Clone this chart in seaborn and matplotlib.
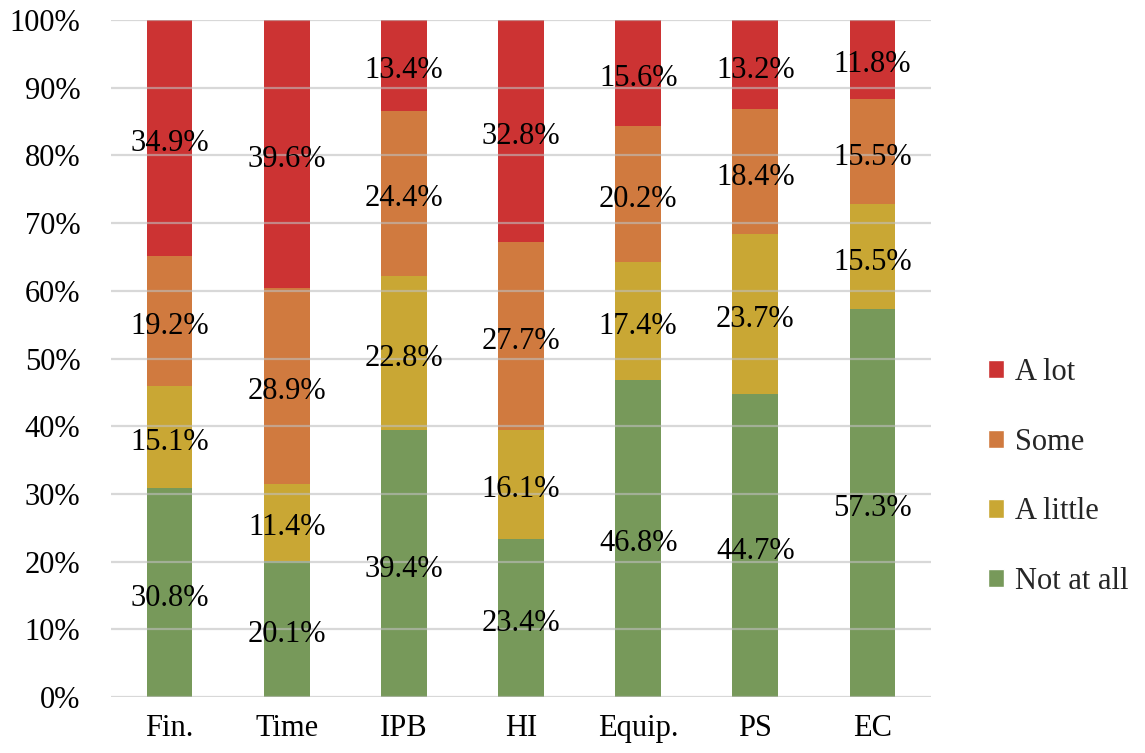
import matplotlib
matplotlib.use("Agg")
import matplotlib.pyplot as plt
import seaborn as sns
import numpy as np
from matplotlib.patches import Patch

categories = ["Fin.", "Time", "IPB", "HI", "Equip.", "PS", "EC"]
not_at_all = [30.8, 20.1, 39.4, 23.4, 46.8, 44.7, 57.3]
a_little = [15.1, 11.4, 22.8, 16.1, 17.4, 23.7, 15.5]
some = [19.2, 28.9, 24.4, 27.7, 20.2, 18.4, 15.5]
a_lot = [34.9, 39.6, 13.4, 32.8, 15.6, 13.2, 11.8]
series_names = ["Not at all", "A little", "Some", "A lot"]
colors = ["#77995A", "#C9A734", "#D07A3F", "#CC3333"]

sns.set_theme(style="white")
plt.rcParams['font.family'] = ['Liberation Serif', 'DejaVu Serif']
FS = 22

fig = plt.figure(figsize=(11.45, 7.53), dpi=100)
ax = fig.add_axes([111/1145, 56/753, 820/1145, 677/753])

series = [not_at_all, a_little, some, a_lot]
bottom = np.zeros(len(categories))
for name, vals, col in zip(series_names, series, colors):
    sns.barplot(x=categories, y=vals, bottom=bottom, color=col, width=0.39,
                ax=ax, zorder=2, linewidth=0, saturation=1)
    for i, v in enumerate(vals):
        ax.text(i, bottom[i] + v / 2 - 0.8, f"{v:.1f}%", ha="center", va="center",
                fontsize=FS, color="black", zorder=5)
    bottom = bottom + np.array(vals)

ax.set_ylim(0, 100)
ax.set_xlim(-0.5, len(categories) - 0.5)
ax.set_yticks(np.arange(0, 101, 10))
ax.set_yticklabels([f"{t}%" for t in range(0, 101, 10)])
for t in range(0, 101, 10):
    ax.axhline(t, color="#BFBFBF", alpha=0.6, linewidth=1.6, zorder=3)
for s in ax.spines.values():
    s.set_visible(False)
ax.tick_params(axis="both", length=0, labelsize=FS, colors="black")
ax.tick_params(axis="y", pad=22)
ax.tick_params(axis="x", pad=12)
ax.set_xlabel("")
ax.set_ylabel("")

handles = [Patch(facecolor=c, label=n) for n, c in zip(series_names, colors)][::-1]
fig.legend(handles=handles, loc="center left", bbox_to_anchor=(960/1145, 1 - 477/753),
           frameon=False, fontsize=FS, handlelength=0.55, handleheight=0.55,
           handletextpad=0.35, labelspacing=1.33)

fig.savefig("out.png", dpi=100)
